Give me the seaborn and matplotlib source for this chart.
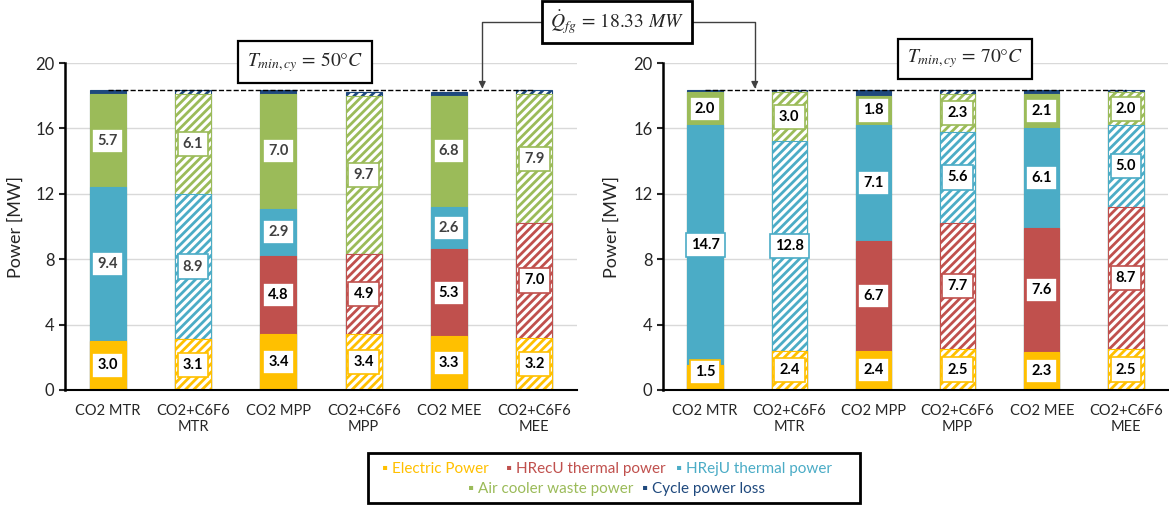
import numpy as np
import pandas as pd
import matplotlib.pyplot as plt
from matplotlib.lines import Line2D
import seaborn as sns

# --- data ---
cases = ["CO2 MTR", "CO2+C6F6\nMTR", "CO2 MPP", "CO2+C6F6\nMPP", "CO2 MEE", "CO2+C6F6\nMEE"]
hatched = [False, True, False, True, False, True]
q_fg = 18.33

series = ["Electric Power", "HRecU thermal power", "HRejU thermal power",
          "Air cooler waste power", "Cycle power loss"]
colors = ["#FFC000", "#C0504D", "#4BACC6", "#9BBB59", "#1F497D"]

# T_min,cy = 50 C
elec_50 = [3.0, 3.1, 3.4, 3.4, 3.3, 3.2]
hrecu_50 = [0.0, 0.0, 4.8, 4.9, 5.3, 7.0]
hreju_50 = [9.4, 8.9, 2.9, 0.0, 2.6, 0.0]
air_50 = [5.7, 6.1, 7.0, 9.7, 6.8, 7.9]
loss_50 = [0.23, 0.23, 0.23, 0.23, 0.23, 0.23]

# T_min,cy = 70 C
elec_70 = [1.5, 2.4, 2.4, 2.5, 2.3, 2.5]
hrecu_70 = [0.0, 0.0, 6.7, 7.7, 7.6, 8.7]
hreju_70 = [14.7, 12.8, 7.1, 5.6, 6.1, 5.0]
air_70 = [2.0, 3.0, 1.8, 2.3, 2.1, 2.0]
loss_70 = [0.13, 0.13, 0.33, 0.23, 0.23, 0.13]

sns.set_style("white")
plt.rcParams['font.family'] = ['Lato', 'DejaVu Sans']
plt.rcParams['mathtext.fontset'] = 'stix'
plt.rcParams['hatch.linewidth'] = 2.0

fig = plt.figure(figsize=(11.69, 5.07), dpi=100)
ax1 = fig.add_axes([65 / 1169, 1 - 390 / 507, 512 / 1169, 327 / 507])
ax2 = fig.add_axes([663 / 1169, 1 - 390 / 507, 505 / 1169, 327 / 507])


def draw_panel(ax, parts, label_colors):
    stack = np.array(parts)
    tops = np.cumsum(stack, axis=0)
    # draw from the top layer down so every segment covers the one beneath
    for k in range(len(parts) - 1, -1, -1):
        n_before = len(ax.patches)
        sns.barplot(x=cases, y=tops[k], color=colors[k], width=0.42,
                    saturation=1, ax=ax, zorder=2)
        for j, p in enumerate(ax.patches[n_before:]):
            p.set_edgecolor(colors[k])
            p.set_linewidth(0.8)
            if hatched[j]:
                p.set_facecolor("white")
                p.set_hatch("////")
    # value labels (all series except the cycle loss)
    for k in range(len(parts) - 1):
        for j in range(len(cases)):
            v = stack[k, j]
            if v <= 0:
                continue
            mid = tops[k, j] - v / 2
            if k == 0:
                mid = max(mid, 1.1)
            ax.text(j, mid, f"{v:.1f}", ha="center", va="center", fontsize=10.5,
                    fontweight="bold", color=label_colors[k], zorder=5,
                    bbox=dict(boxstyle="square,pad=0.35", fc="white",
                              ec=colors[k], lw=1.2))
    # flue gas heat line
    ax.plot(range(len(cases)), [q_fg] * len(cases), ls="--", color="black",
            lw=1.0, zorder=4)

    ax.set_ylim(0, 20)
    ax.set_xlim(-0.5, len(cases) - 0.5)
    ax.set_yticks([0, 4, 8, 12, 16, 20])
    ax.yaxis.grid(True, color="#d9d9d9", lw=1.0, zorder=0)
    ax.set_axisbelow(True)
    ax.set_ylabel("Power [MW]", fontsize=13)
    ax.set_xlabel("")
    ax.set_xticks(np.arange(-0.5, len(cases)), labels=[""] * (len(cases) + 1))
    ax.set_xticks(range(len(cases)), labels=cases, minor=True)
    ax.tick_params(axis="x", which="major", length=5, width=1.2, color="black",
                   direction="out")
    ax.tick_params(axis="x", which="minor", length=0, labelsize=10.5, pad=10)
    ax.tick_params(axis="y", length=4, width=1.5, labelsize=12, direction="out",
                   left=True)
    for s in ["top", "right"]:
        ax.spines[s].set_visible(False)
    ax.spines["left"].set_linewidth(1.8)
    ax.spines["bottom"].set_linewidth(1.5)
    ax.spines["left"].set_color("black")
    ax.spines["bottom"].set_color("black")


draw_panel(ax1, [elec_50, hrecu_50, hreju_50, air_50, loss_50],
           ["black", "black", "#404040", "#404040"])
draw_panel(ax2, [elec_70, hrecu_70, hreju_70, air_70, loss_70],
           ["black", "black", "black", "black"])
ax1.yaxis.set_label_coords(-0.08, 0.5)
ax2.yaxis.set_label_coords(-0.085, 0.5)

# temperature boxes
fig.text(305 / 1169, 1 - 62 / 507, r"$T_{min,cy}\,=\,50°C$", ha="center", va="center",
         fontsize=14, bbox=dict(boxstyle="square,pad=0.45", fc="white", ec="black", lw=1.6))
fig.text(965 / 1169, 1 - 59 / 507, r"$T_{min,cy}\,=\,70°C$", ha="center", va="center",
         fontsize=14, bbox=dict(boxstyle="square,pad=0.45", fc="white", ec="black", lw=1.6))

# flue gas heat box with pointers
fig.text(617 / 1169, 1 - 22 / 507, r"$\dot{Q}_{fg}\,=\,18.33\ MW$", ha="center",
         va="center", fontsize=14,
         bbox=dict(boxstyle="square,pad=0.4", fc="white", ec="black", lw=2.0))
arrow = dict(arrowstyle="-|>", color="#404040", lw=1.0, shrinkA=0, shrinkB=0,
             connectionstyle="angle,angleA=0,angleB=90,rad=0")
ax1.annotate("", xy=(4.39, q_fg + 0.1), xycoords="data",
             xytext=(545 / 1169, 1 - 22 / 507), textcoords="figure fraction",
             arrowprops=arrow, annotation_clip=False)
ax2.annotate("", xy=(0.59, q_fg + 0.1), xycoords="data",
             xytext=(690 / 1169, 1 - 22 / 507), textcoords="figure fraction",
             arrowprops=arrow, annotation_clip=False)

# legend box drawn as coloured text rows
lx0, lx1, ly0, ly1 = 368 / 1169, 860 / 1169, 1 - 503 / 507, 1 - 453 / 507
fig.patches.append(plt.Rectangle((lx0, ly0), lx1 - lx0, ly1 - ly0, transform=fig.transFigure,
                                 fill=False, ec="black", lw=2.0))
row1 = [(382, 0), (506, 1), (676, 2)]
row2 = [(468, 3), (642, 4)]
for y_px, row in [(469, row1), (489, row2)]:
    for x_px, k in row:
        fig.text(x_px / 1169, 1 - y_px / 507, "▪ " + series[k], color=colors[k],
                 fontsize=11, ha="left", va="center")

fig.savefig("out.png", dpi=100)
